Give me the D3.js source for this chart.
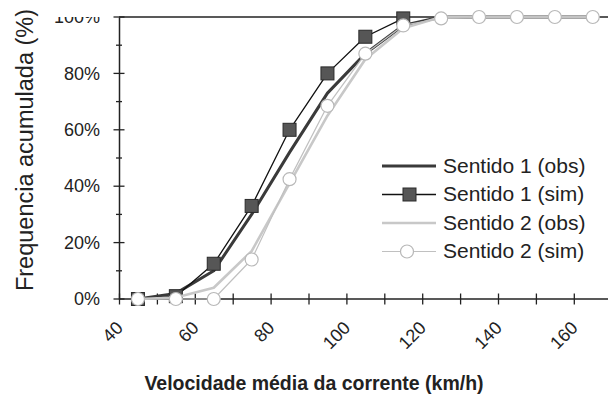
<!DOCTYPE html>
<html>
<head>
<meta charset="utf-8">
<script src="https://cdn.jsdelivr.net/npm/d3@7"></script>
<style>
  body { margin: 0; background: #fff; }
  text { font-family: "Liberation Sans", Arial, sans-serif; fill: #222; }
</style>
</head>
<body>
<svg id="chart" width="608" height="400"></svg>
<script>
// speeds (km/h) and cumulative frequency (%)
const speeds = [45, 55, 65, 75, 85, 95, 105, 115, 125, 135, 145, 155, 165];
const s1obs = [0, 2, 10, 30, 52, 73, 87, 97, 100, 100, 100, 100, 100];
const s1sim = [0, 1, 12.5, 33, 60, 80, 93, 99.5];
const s2obs = [0, 0.5, 4, 17, 41, 65, 85, 96, 100, 100, 100, 100, 100];
const s2sim = [0, 0, 0, 14, 42.5, 68.5, 87, 97, 99.5, 100, 100, 100, 100];
const xLabels = [40, 60, 80, 100, 120, 140, 160];
const yLabels = [0, 20, 40, 60, 80, 100];
const legendNames = ["Sentido 1 (obs)", "Sentido 1 (sim)", "Sentido 2 (obs)", "Sentido 2 (sim)"];

const svg = d3.select("#chart");
const W = 608, H = 400;
const plotLeft = 119, plotBottom = 299, plotTop = 17;

const x = d3.scaleLinear().domain([40, 170]).range([plotLeft, plotLeft + 13 * 37.9]);
const y = d3.scaleLinear().domain([0, 100]).range([plotBottom, plotTop]);

const styles = [
  { name: legendNames[0], data: s1obs, stroke: "#3a3a3a", width: 3, marker: null },
  { name: legendNames[1], data: s1sim, stroke: "#111", width: 1.3, marker: "square" },
  { name: legendNames[2], data: s2obs, stroke: "#c8c8c8", width: 2.6, marker: null },
  { name: legendNames[3], data: s2sim, stroke: "#c0c0c0", width: 1.2, marker: "circle" }
];

// the scan is cut just above the 100% line
svg.append("defs").append("clipPath").attr("id", "labclip")
  .append("rect").attr("x", -300).attr("y", plotTop).attr("width", 1000).attr("height", H);

// top line at 100%
svg.append("line")
  .attr("x1", plotLeft).attr("x2", W)
  .attr("y1", y(100)).attr("y2", y(100))
  .attr("stroke", "#222").attr("stroke-width", 1.5);

// y axis
const yAxis = d3.axisLeft(y).tickValues(yLabels).tickSize(0).tickPadding(19)
  .tickFormat(d => d + "%");
const gy = svg.append("g").attr("transform", `translate(${plotLeft},0)`)
  .attr("clip-path", "url(#labclip)")
  .call(yAxis);
gy.select(".domain").attr("stroke", "#222").attr("stroke-width", 1.5);
gy.selectAll(".tick text").attr("font-size", 18).attr("fill", "#222")
  .attr("font-family", "Liberation Sans, Arial, sans-serif");

// y ticks crossing the axis (major every 20, minor every 10)
svg.append("g").selectAll("line")
  .data(d3.range(0, 101, 10))
  .join("line")
  .attr("x1", d => plotLeft - (d % 20 === 0 ? 5.5 : 3))
  .attr("x2", d => plotLeft + (d % 20 === 0 ? 5.5 : 3))
  .attr("y1", d => y(d)).attr("y2", d => y(d))
  .attr("stroke", "#222").attr("stroke-width", 1.3);

// x axis
const gx = svg.append("g").attr("transform", `translate(0,${plotBottom})`)
  .call(d3.axisBottom(x).tickValues(d3.range(40, 171, 10)).tickSize(0).tickFormat(""));
gx.select(".domain").attr("stroke", "#222").attr("stroke-width", 1.5)
  .attr("d", `M${plotLeft},0H${W}`);
gx.selectAll(".tick line").attr("stroke", "#222").attr("stroke-width", 1.3)
  .attr("y1", -5.5).attr("y2", 5.5);

svg.append("g").selectAll("text")
  .data(xLabels)
  .join("text")
  .attr("transform", d => `translate(${x(d) + 5},${plotBottom + 30}) rotate(-45)`)
  .attr("text-anchor", "end")
  .attr("font-size", 18)
  .text(d => d);

// series
const line = d3.line().x((d, i) => x(speeds[i])).y(d => y(d));

styles.forEach(s => {
  svg.append("path")
    .datum(s.data)
    .attr("fill", "none")
    .attr("stroke", s.stroke)
    .attr("stroke-width", s.width)
    .attr("stroke-linejoin", "round")
    .attr("d", line);
  if (s.marker === "square") {
    svg.append("g").selectAll("rect")
      .data(s.data)
      .join("rect")
      .attr("x", (d, i) => x(speeds[i]) - 6.5)
      .attr("y", d => y(d) - 6.5)
      .attr("width", 13).attr("height", 13)
      .attr("fill", "#565656").attr("stroke", "#2a2a2a").attr("stroke-width", 1);
  } else if (s.marker === "circle") {
    svg.append("g").selectAll("circle")
      .data(s.data)
      .join("circle")
      .attr("cx", (d, i) => x(speeds[i]))
      .attr("cy", d => y(d))
      .attr("r", 6.5)
      .attr("fill", "#fff").attr("stroke", "#b8b8b8").attr("stroke-width", 1.2);
  }
});

// legend
const leg = svg.append("g");
styles.forEach((s, i) => {
  const ly = 166 + i * 28.5;
  leg.append("line")
    .attr("x1", 382).attr("x2", 436).attr("y1", ly).attr("y2", ly)
    .attr("stroke", s.stroke).attr("stroke-width", s.width);
  if (s.marker === "square") {
    leg.append("rect").attr("x", 403).attr("y", ly - 6.5).attr("width", 13).attr("height", 13)
      .attr("fill", "#565656").attr("stroke", "#2a2a2a");
  } else if (s.marker === "circle") {
    leg.append("circle").attr("cx", 407).attr("cy", ly).attr("r", 6.5)
      .attr("fill", "#fff").attr("stroke", "#b8b8b8").attr("stroke-width", 1.2);
  }
  leg.append("text")
    .attr("x", 443).attr("y", ly + 6.5)
    .attr("font-size", 21)
    .text(s.name);
});

// axis titles
svg.append("text")
  .attr("x", 314).attr("y", 390)
  .attr("text-anchor", "middle")
  .attr("font-size", 19.5).attr("font-weight", "bold")
  .text("Velocidade média da corrente (km/h)");

svg.append("text")
  .attr("transform", `translate(33,150) rotate(-90)`)
  .attr("text-anchor", "middle")
  .attr("font-size", 23.5)
  .text("Frequencia acumulada (%)");
</script>
</body>
</html>
